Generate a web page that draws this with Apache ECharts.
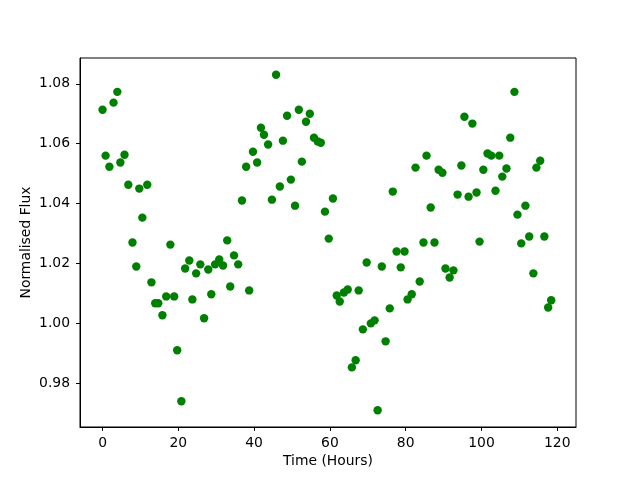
<!DOCTYPE html>
<html lang="en">
<head>
    <meta charset="UTF-8">
    <title>Normalised Flux</title>
    <script src="https://cdn.jsdelivr.net/npm/echarts@6/dist/echarts.min.js"></script>
    <style>
        body { margin: 0; background: #fff; }
    </style>
</head>
<body>
    <div id="main" style="width: 640px; height: 480px"></div>
    <script>
        // time in hours
        var hours = [
            0, 0.8, 1.8, 2.9, 3.9, 4.7, 5.8, 6.8, 7.9, 8.9,
            9.7, 10.5, 11.8, 12.9, 13.9, 14.7, 15.8, 16.8, 17.9, 18.9,
            19.7, 20.8, 21.8, 22.9, 23.7, 24.7, 25.8, 26.8, 27.9, 28.7,
            29.7, 30.8, 31.8, 32.9, 33.7, 34.7, 35.8, 36.8, 37.9, 38.7,
            39.7, 40.8, 41.8, 42.6, 43.7, 44.7, 45.8, 46.8, 47.6, 48.7,
            49.7, 50.8, 51.8, 52.6, 53.7, 54.7, 55.8, 56.8, 57.6, 58.7,
            59.7, 60.8, 61.8, 62.6, 63.7, 64.7, 65.8, 66.8, 67.6, 68.7,
            69.7, 70.8, 71.8, 72.6, 73.7, 74.7, 75.8, 76.6, 77.6, 78.7,
            79.7, 80.5, 81.6, 82.6, 83.7, 84.7, 85.5, 86.6, 87.6, 88.7,
            89.7, 90.5, 91.6, 92.6, 93.7, 94.7, 95.5, 96.6, 97.6, 98.7,
            99.5, 100.5, 101.6, 102.6, 103.7, 104.7, 105.5, 106.6, 107.6, 108.7,
            109.5, 110.5, 111.6, 112.6, 113.7, 114.5, 115.5, 116.6, 117.6, 118.4
        ];

        var flux = [
            1.0713, 1.0560, 1.0523, 1.0737, 1.0773, 1.0537, 1.0563, 1.0463, 1.0270, 1.0190,
            1.0450, 1.0353, 1.0463, 1.0137, 1.0067, 1.0067, 1.0027, 1.0090, 1.0263, 1.0090,
            0.9910, 0.9740, 1.0183, 1.0210, 1.0080, 1.0167, 1.0197, 1.0017, 1.0180, 1.0097,
            1.0197, 1.0213, 1.0193, 1.0277, 1.0123, 1.0227, 1.0197, 1.0410, 1.0523, 1.0110,
            1.0573, 1.0537, 1.0653, 1.0630, 1.0597, 1.0413, 1.0830, 1.0457, 1.0610, 1.0693,
            1.0480, 1.0393, 1.0713, 1.0540, 1.0673, 1.0700, 1.0620, 1.0607, 1.0603, 1.0373,
            1.0283, 1.0417, 1.0093, 1.0073, 1.0103, 1.0113, 0.9853, 0.9877, 1.0110, 0.9980,
            1.0203, 1.0000, 1.0010, 0.9710, 1.0190, 0.9940, 1.0050, 1.0440, 1.0240, 1.0187,
            1.0240, 1.0080, 1.0097, 1.0520, 1.0140, 1.0270, 1.0560, 1.0387, 1.0270, 1.0513,
            1.0503, 1.0183, 1.0153, 1.0177, 1.0430, 1.0527, 1.0690, 1.0423, 1.0667, 1.0437,
            1.0273, 1.0513, 1.0567, 1.0560, 1.0443, 1.0560, 1.0490, 1.0517, 1.0620, 1.0773,
            1.0363, 1.0267, 1.0393, 1.0290, 1.0167, 1.0520, 1.0543, 1.0290, 1.0053, 1.0077
        ];

        var xTicks = [0, 20, 40, 60, 80, 100, 120];
        var yTicks = [0.98, 1.00, 1.02, 1.04, 1.06, 1.08];

        var points = hours.map(function (h, i) { return [h, flux[i]]; });

        var font = 'DejaVu Sans';
        var mychart = echarts.init(document.getElementById('main'), null, { renderer: 'canvas' });

        var option = {
            animation: false,
            backgroundColor: '#fff',
            textStyle: { fontFamily: font },
            grid: {
                left: 80, right: 64, top: 58, bottom: 53,
                show: true, borderColor: '#000', borderWidth: 1
            },
            xAxis: {
                type: 'value',
                min: -5.95,
                max: 124.95,
                name: 'Time (Hours)',
                nameLocation: 'middle',
                nameGap: 27,
                nameMoveOverlap: false,
                nameTextStyle: { color: '#000', fontSize: 13.9, fontFamily: font },
                splitLine: { show: false },
                axisLine: { show: true, onZero: false, lineStyle: { color: '#000', width: 1 } },
                axisTick: { show: true, length: 4, customValues: xTicks, lineStyle: { color: '#000' } },
                axisLabel: {
                    customValues: xTicks,
                    margin: 9,
                    color: '#000',
                    fontSize: 13.9,
                    fontFamily: font
                }
            },
            yAxis: {
                type: 'value',
                min: 0.9654,
                max: 1.0886,
                name: 'Normalised Flux',
                nameLocation: 'middle',
                nameGap: 47,
                nameMoveOverlap: false,
                nameTextStyle: { color: '#000', fontSize: 13.9, fontFamily: font },
                splitLine: { show: false },
                axisLine: { show: true, onZero: false, lineStyle: { color: '#000', width: 1 } },
                axisTick: { show: true, length: 4, customValues: yTicks, lineStyle: { color: '#000' } },
                axisLabel: {
                    customValues: yTicks,
                    margin: 10,
                    color: '#000',
                    fontSize: 13.9,
                    fontFamily: font,
                    formatter: function (v) { return v.toFixed(2); }
                }
            },
            series: [{
                type: 'scatter',
                data: points,
                symbol: 'circle',
                symbolSize: 8.4,
                itemStyle: { color: '#008000', opacity: 1 }
            }]
        };

        mychart.setOption(option);
    </script>
</body>
</html>
